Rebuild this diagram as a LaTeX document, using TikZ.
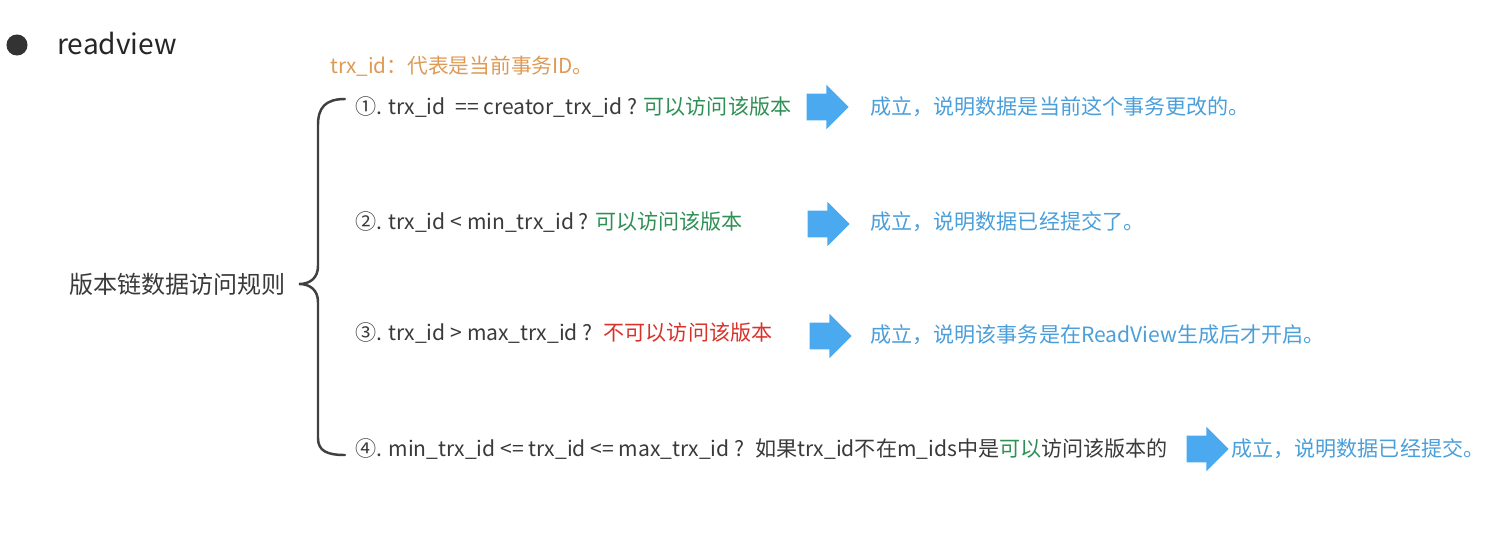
\documentclass[tikz,border=0pt]{standalone}
\usepackage{fontspec}
\setmainfont{Noto Sans CJK SC}
\usetikzlibrary{shapes.arrows, positioning}
\usepackage{xcolor}
\definecolor{TextGray}{HTML}{3A3A3A}
\definecolor{BraceGray}{HTML}{404040}
\definecolor{NoteOrange}{HTML}{DE9A55}
\definecolor{OkGreen}{HTML}{2F8F55}
\definecolor{NoRed}{HTML}{D7332A}
\definecolor{ResultBlue}{HTML}{4A9FDA}
\definecolor{ArrowBlue}{HTML}{4BA9F0}
\tikzset{
    % text styles
    title/.style={
        anchor=west,
        inner sep=0pt,
        text=black!85,
        font=\fontsize{16}{18}\selectfont
    },
    note/.style={
        anchor=west,
        inner sep=0pt,
        text=NoteOrange,
        font=\fontsize{11.8}{13}\selectfont
    },
    label/.style={
        anchor=east,
        inner sep=0pt,
        text=TextGray,
        font=\fontsize{13.7}{15}\selectfont
    },
    rule/.style={
        anchor=west,
        inner sep=0pt,
        text=TextGray,
        font=\fontsize{12}{14}\selectfont
    },
    result/.style={
        anchor=west,
        inner sep=0pt,
        text=ResultBlue,
        font=\fontsize{12}{14}\selectfont
    },
    % block arrow
    bigarrow/.style={
        single arrow,
        fill=ArrowBlue,
        draw=none,
        inner xsep=0pt,
        inner ysep=0.26cm,
        minimum height=0.84cm,
        single arrow head extend=0.18cm
    },
    brace/.style={
        draw=BraceGray,
        line width=1.4pt,
        line cap=round
    }
}
\newcommand{\ok}[1]{{\color{OkGreen}#1}}
\newcommand{\no}[1]{{\color{NoRed}#1}}

\begin{document}
\begin{tikzpicture}[x=0.02cm, y=-0.02cm]
    \useasboundingbox (0,0) rectangle (1500,551);

    \node[circle, fill=black!80, inner sep=0pt, minimum size=12] (dot) at (17,45) {};
    \node[title] (readview) at (57,43) {readview};

    \node[note] (trx) at (330,66) {trx\_id：代表是当前事务ID。};

    \node[label] (chain) at (286,284) {版本链数据访问规则};

    \node[rule] (r1) at (355,107) {①. trx\_id \ == creator\_trx\_id ? \ok{可以访问该版本}};
    \node[rule] (r2) at (355,222) {②. trx\_id < min\_trx\_id ? \ok{可以访问该版本}};
    \node[rule] (r3) at (355,333) {③. trx\_id > max\_trx\_id ? \ \no{不可以访问该版本}};
    \node[rule] (r4) at (355,449) {④. min\_trx\_id <= trx\_id <= max\_trx\_id ? \ 如果trx\_id不在m\_ids中是\ok{可以}访问该版本的};

    \node[bigarrow] (a1) at (821,107) {};
    \node[bigarrow] (a2) at (822,224) {};
    \node[bigarrow] (a3) at (824,336) {};
    \node[bigarrow] (a4) at (1201,449) {};

    \node[result] (c1) at (870,107) {成立，说明数据是当前这个事务更改的。};
    \node[result] (c2) at (870,222) {成立，说明数据已经提交了。};
    \node[result] (c3) at (870,335) {成立，说明该事务是在ReadView生成后才开启。};
    \node[result] (c4) at (1231,449) {成立，说明数据已经提交。};

    % curly brace
    \draw[brace] (345,99) .. controls (325,99) and (318,108) .. (318,125)
        -- (318,266) .. controls (318,278) and (310,284) .. (299,284)
        .. controls (310,284) and (318,290) .. (318,302)
        -- (318,438) .. controls (318,451) and (327,455) .. (345,455);
\end{tikzpicture}
\end{document}
